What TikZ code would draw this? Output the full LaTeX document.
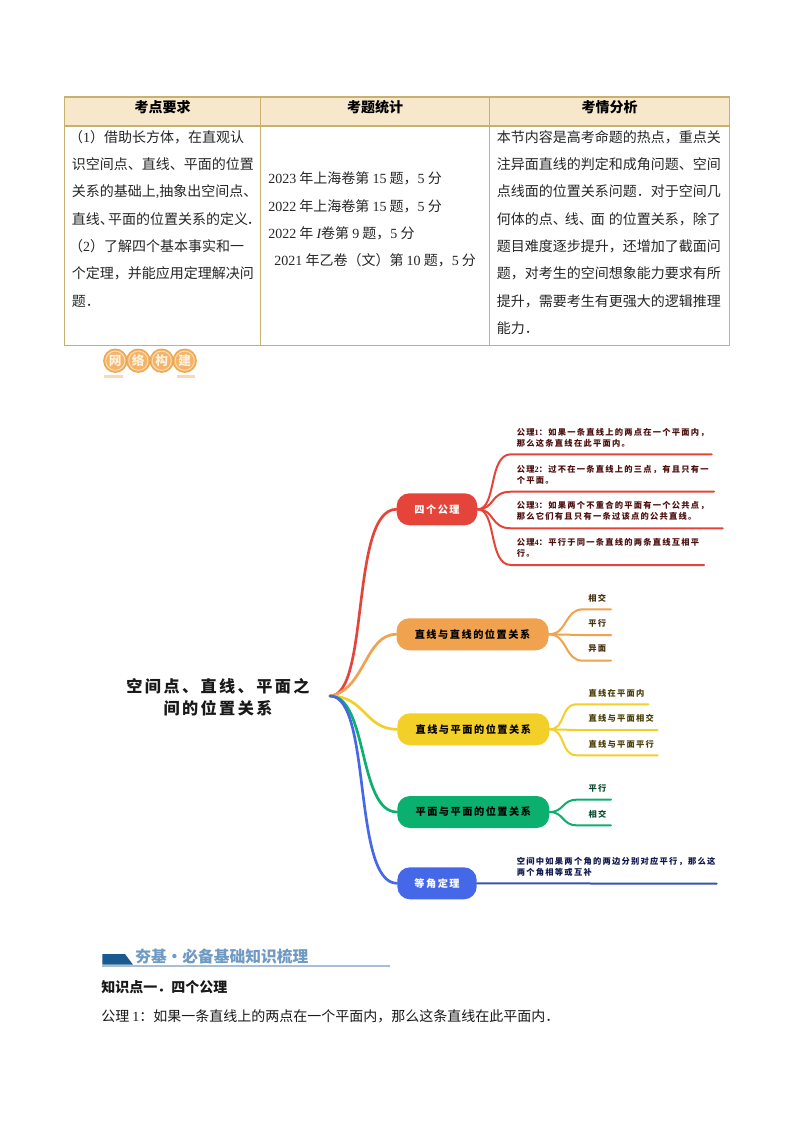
\documentclass[tikz,border=0pt]{standalone}
\usepackage{fontspec}
\setmainfont{Noto Sans CJK SC}
\newfontfamily\sernum{Liberation Serif}
\newfontfamily\mapfont[LetterSpace=15]{Noto Sans CJK SC}
\newcommand{\nm}[1]{{\sernum #1}}
\definecolor{tabline}{HTML}{C8B071}
\definecolor{tabhead}{HTML}{F7E8CB}
\definecolor{cred}{HTML}{E5443B}
\definecolor{corange}{HTML}{F0A24E}
\definecolor{cyellow}{HTML}{F2D027}
\definecolor{cgreen}{HTML}{0BB06F}
\definecolor{cblue}{HTML}{4468E8}
\definecolor{cblued}{HTML}{3A52AE}
\definecolor{tred}{HTML}{4E0F0F}
\definecolor{torange}{HTML}{46300F}
\definecolor{tyellow}{HTML}{4C400A}
\definecolor{tgreen}{HTML}{0A4A32}
\definecolor{tblue}{HTML}{10184E}
\definecolor{secdark}{HTML}{1A5A8E}
\definecolor{secline}{HTML}{A9BDD3}
\definecolor{sectext}{HTML}{6F9AC4}
\definecolor{badgefill}{HTML}{F3B469}
\definecolor{badgeedge}{HTML}{F0A446}
\definecolor{badgering}{HTML}{FBE3C2}
\definecolor{badgetext}{HTML}{FDF0DC}
\definecolor{badgebar}{HTML}{F8D9B5}
\tikzset{
 cell/.style={anchor=west,inner sep=0pt,align=left,font=\fontsize{10.5}{20.5}\selectfont,text=black!85},
 headcell/.style={inner sep=0pt,font=\fontsize{10.5}{12}\selectfont\bfseries},
 tabrule/.style={draw=tabline,line width=0.8pt},
 pill/.style={rounded corners=9.5pt,minimum height=24pt,inner sep=0pt,font=\mapfont\fontsize{7.63}{9}\selectfont\bfseries},
 branch/.style={line width=2pt,line cap=round},
 twig/.style={line width=1.5pt,line cap=round},
 leaf/.style={anchor=west,inner sep=0pt,align=left,font=\mapfont\fontsize{6.2}{8.2}\selectfont\bfseries},
 badge/.style={circle,inner sep=0pt,minimum size=17.5pt,fill=badgefill,draw=badgeedge,line width=0.7pt,text=badgetext,font=\fontsize{9.5}{10}\selectfont\bfseries,
   path picture={\draw[badgering,line width=0.6pt] (path picture bounding box.center) circle (7.2pt);}},
 para/.style={anchor=west,inner sep=0pt,font=\fontsize{10.5}{12}\selectfont,text=black!90},
}
\begin{document}
\begin{tikzpicture}[x=0.75pt,y=-0.75pt]
\useasboundingbox[fill=white] (0,0) rectangle (794,1123);
% table
\fill[tabhead] (64.5,97) rectangle (729.5,126);
\draw[tabrule] (64.5,97) rectangle (729.5,345.5);
\draw[tabrule] (64.5,126) -- (729.5,126);
\draw[tabrule] (260.5,97) -- (260.5,345.5);
\draw[tabrule] (489.5,97) -- (489.5,345.5);
\node[headcell] (h1) at (162.5,107.5) {考点要求};
\node[headcell] (h2) at (375,107.5) {考题统计};
\node[headcell] (h3) at (609.5,107.5) {考情分析};
\node[cell] (c1) at (71.5,218.7) {\hspace*{-2pt}（\nm{1}）借助长方体，在直观认\\
识空间点、直线、平面的位置\\
关系的基础上{\sernum,}抽象出空间点、\\
直线、\kern-.4em平面的位置关系的定义\kern-.1em．\\
\hspace*{-2pt}（\nm{2}）了解四个基本事实和一\\
个定理，并能应用定理解决问\\
题．};
\node[cell] (c2) at (268,219.7) {\nm{2023} 年上海卷第 \nm{15} 题，\nm{5} 分\\
\nm{2022} 年上海卷第 \nm{15} 题，\nm{5} 分\\
\nm{2022} 年 {\sernum\itshape I}卷第 \nm{9} 题，\nm{5} 分\\
\hspace*{4.6pt}\nm{2021} 年乙卷（文）第 \nm{10} 题，\nm{5} 分};
\node[cell] (c3) at (496.7,232.5) {本节内容是高考命题的热点，重点关\\
注异面直线的判定和成角问题、空间\\
点线面的位置关系问题．对于空间几\\
何体的点、\kern-.15em线、\kern-.15em面\hspace{.3em}的位置关系，除了\\
题目难度逐步提升，还增加了截面问\\
题，对考生的空间想象能力要求有所\\
提升，需要考生有更强大的逻辑推理\\
能力．};
% badge
\fill[badgebar] (104,375) rectangle (123,377.5);
\fill[badgebar] (177,375) rectangle (195,377.5);
\node[badge] (b1) at (115.3,360.7) {网};
\node[badge] (b2) at (138.3,360.7) {络};
\node[badge] (b3) at (161.7,360.7) {构};
\node[badge] (b4) at (184.7,360.7) {建};
% mind map
\node[inner sep=0pt,align=center,font=\mapfont\fontsize{12.1}{16.8}\selectfont\bfseries,text=black!90] (root) at (218,697) {空间点、直线、平面之\\间的位置关系};
\coordinate (hub) at (330,696);
\node[pill,fill=cred,text=white,minimum width=60.5pt] (pa) at (437,509.3) {四个公理};
\node[pill,fill=corange,text=black,minimum width=114pt] (pb) at (472.5,634.3) {直线与直线的位置关系};
\node[pill,fill=cyellow,text=black,minimum width=114pt] (pc) at (473.3,729.3) {直线与平面的位置关系};
\node[pill,fill=cgreen,text=black,minimum width=114pt] (pd) at (473.3,812) {平面与平面的位置关系};
\node[pill,fill=cblue,text=white,minimum width=59.5pt] (pe) at (437,883.3) {等角定理};
\draw[branch,cred] (hub) .. controls (370,696) and (350,509.3) .. (pa.west);
\draw[branch,corange] (hub) .. controls (365,690) and (365,634.3) .. (pb.west);
\draw[branch,cyellow] (hub) .. controls (365,696) and (365,729.3) .. (pc.west);
\draw[branch,cgreen] (hub) .. controls (368,696) and (358,812) .. (pd.west);
\draw[branch,cblue] (hub) .. controls (372,696) and (352,883.3) .. (pe.west);
% red leaves
\coordinate (a1s) at (511,454.3); \coordinate (a1e) at (711.7,454.3);
\coordinate (a2s) at (511,491.7); \coordinate (a2e) at (714,491.7);
\coordinate (a3s) at (511,528.3); \coordinate (a3e) at (722.7,528.3);
\coordinate (a4s) at (511,565);   \coordinate (a4e) at (704,565);
\draw[twig,cred] (pa.east) .. controls (497,509.3) and (488,454.3) .. (a1s) -- (a1e);
\draw[twig,cred] (pa.east) .. controls (495,509.3) and (490,491.7) .. (a2s) -- (a2e);
\draw[twig,cred] (pa.east) .. controls (495,509.3) and (490,528.3) .. (a3s) -- (a3e);
\draw[twig,cred] (pa.east) .. controls (497,509.3) and (488,565) .. (a4s) -- (a4e);
\node[leaf,text=tred] (ta1) at (516.7,437.8) {公理\nm{1}：如果一条直线上的两点在一个平面内，\\那么这条直线在此平面内。};
\node[leaf,text=tred] (ta2) at (516.7,474.5) {公理\nm{2}：过不在一条直线上的三点，有且只有一\\个平面。};
\node[leaf,text=tred] (ta3) at (516.7,511.2) {公理\nm{3}：如果两个不重合的平面有一个公共点，\\那么它们有且只有一条过该点的公共直线。};
\node[leaf,text=tred] (ta4) at (516.7,547.8) {公理\nm{4}：平行于同一条直线的两条直线互相平\\行。};
% orange leaves
\coordinate (b1s) at (583,609.3); \coordinate (b1e) at (611,609.3);
\coordinate (b2s) at (583,635);   \coordinate (b2e) at (611,635);
\coordinate (b3s) at (583,660.7); \coordinate (b3e) at (611,660.7);
\draw[twig,corange] (pb.east) .. controls (568,634.3) and (564,609.3) .. (b1s) -- (b1e);
\draw[twig,corange] (pb.east) -- (b2s) -- (b2e);
\draw[twig,corange] (pb.east) .. controls (568,634.3) and (564,660.7) .. (b3s) -- (b3e);
\node[leaf,text=torange] (tb1) at (588,598) {相交};
\node[leaf,text=torange] (tb2) at (588,623.3) {平行};
\node[leaf,text=torange] (tb3) at (588,649) {异面};
% yellow leaves
\coordinate (c1s) at (576.7,704.3); \coordinate (c1e) at (648.3,704.3);
\coordinate (c2s) at (576.7,730);   \coordinate (c2e) at (657.7,730);
\coordinate (c3s) at (576.7,755.3); \coordinate (c3e) at (657.7,755.3);
\draw[twig,cyellow] (pc.east) .. controls (566,729.3) and (560,704.3) .. (c1s) -- (c1e);
\draw[twig,cyellow] (pc.east) -- (c2s) -- (c2e);
\draw[twig,cyellow] (pc.east) .. controls (566,729.3) and (560,755.3) .. (c3s) -- (c3e);
\node[leaf,text=tyellow] (tc1) at (588.3,693.3) {直线在平面内};
\node[leaf,text=tyellow] (tc2) at (588.3,718.7) {直线与平面相交};
\node[leaf,text=tyellow] (tc3) at (588.3,744) {直线与平面平行};
% green leaves
\coordinate (d1s) at (576.7,799.7); \coordinate (d1e) at (611,799.7);
\coordinate (d2s) at (576.7,825.3); \coordinate (d2e) at (611,825.3);
\draw[twig,cgreen] (pd.east) .. controls (564,812) and (562,799.7) .. (d1s) -- (d1e);
\draw[twig,cgreen] (pd.east) .. controls (564,812) and (562,825.3) .. (d2s) -- (d2e);
\node[leaf,text=tgreen] (td1) at (588.3,788.3) {平行};
\node[leaf,text=tgreen] (td2) at (588.3,814) {相交};
% blue leaf
\coordinate (e1e) at (716.7,883.7);
\draw[twig,cblued] (pe.east) -- (e1e);
\node[leaf,text=tblue] (te1) at (516.7,866.6) {空间中如果两个角的两边分别对应平行，那么这\\两个角相等或互补};
% section heading
\fill[secdark] (102.3,954) -- (125,954) -- (133,964.7) -- (102.3,964.7) -- cycle;
\draw[secline,line width=0.8pt] (102.3,966) -- (390,966);
\node[anchor=west,inner sep=0pt,font=\fontsize{11.8}{13}\selectfont\bfseries,text=sectext] (sec) at (135,956) {夯基·必备基础知识梳理};
\node[para,font=\fontsize{10.5}{12}\selectfont\bfseries] (k1) at (101,987.3) {知识点一．四个公理};
\node[para] (k2) at (101,1016) {公理 \nm{1}：如果一条直线上的两点在一个平面内，那么这条直线在此平面内．};
\end{tikzpicture}
\end{document}
